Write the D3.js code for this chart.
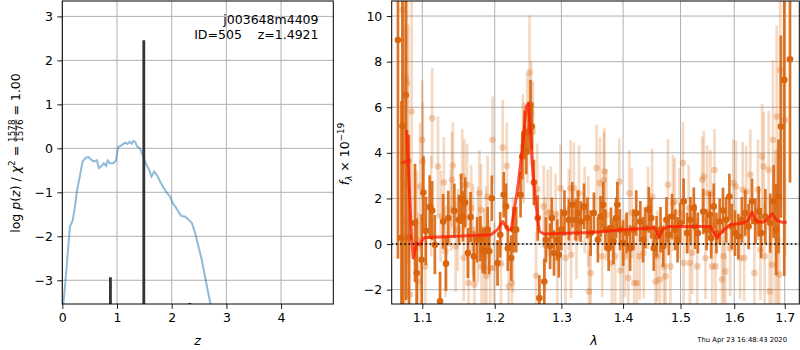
<!DOCTYPE html>
<html lang="en">
<head>
    <meta charset="UTF-8">
    <script src="https://cdnjs.cloudflare.com/ajax/libs/d3/7.8.5/d3.min.js"></script>
    <title>redshift fit</title>
    <style>
        body { margin: 0; background: #fff; }
        svg text { font-family: "DejaVu Sans", sans-serif; fill: #000; }
    </style>
</head>
<body>
<div id="plot"></div>
<script>
    // p(z) curve
    var pzZ = [0.02,0.06,0.11,0.14,0.19,0.23,0.27,0.32,0.37,0.43,0.48,0.54,0.58,0.63,0.67,0.72,0.76,0.80,0.83,0.87,
        0.93,0.98,1.02,1.09,1.15,1.19,1.23,1.27,1.30,1.33,1.37,1.42,1.48,1.54,1.59,1.63,1.68,1.73,1.79,1.85,
        1.91,1.97,2.00,2.03,2.06,2.10,2.14,2.18,2.24,2.30,2.37,2.43,2.49,2.55,2.61,2.67,2.71];
    var pzLog = [-3.54,-2.99,-2.23,-1.78,-1.64,-1.33,-0.95,-0.64,-0.30,-0.21,-0.20,-0.27,-0.30,-0.27,-0.45,-0.40,-0.34,-0.40,-0.28,-0.34,
        -0.34,-0.28,0.02,0.08,0.13,0.10,0.15,0.10,0.17,0.15,0.04,0.0,-0.19,-0.38,-0.49,-0.64,-0.53,-0.61,-0.76,-0.89,
        -1.01,-1.10,-1.19,-1.27,-1.31,-1.39,-1.48,-1.54,-1.55,-1.61,-1.70,-1.93,-2.23,-2.54,-2.92,-3.30,-3.54];
    // vertical bars
    var barZ = [0.88, 1.49, 2.33];
    var barLog = [-2.93, 2.46, -3.52];

    // spectrum, first set (solid)
    var darkWave = [1.0683,1.0728,1.0741,1.0785,1.0824,1.0904,1.0926,1.0992,1.1014,1.1047,
        1.1098,1.1131,1.1167,1.1237,1.1279,1.1317,1.1349,1.1432,1.1494,1.1526,
        1.1550,1.1582,1.1619,1.1656,1.1703,1.1749,1.1795,1.1828,1.1861,1.1898,
        1.1921,1.1958,1.2040,1.2079,1.2130,1.2164,1.2190,1.2239,1.2273,1.2313,
        1.2378,1.2403,1.2437,1.2463,1.2497,1.2527,1.2548,1.2578,1.2637,1.2661,
        1.2736,1.2761,1.2825,1.2851,1.2885,1.2936,1.2960,1.3000,1.3048,1.3117,
        1.3172,1.3225,1.3262,1.3305,1.3358,1.3413,1.3465,1.3518,1.3583,1.3626,
        1.3669,1.3706,1.3759,1.3798,1.3839,1.3883,1.3904,1.3947,1.4000,1.4060,
        1.4118,1.4175,1.4223,1.4293,1.4340,1.4381,1.4439,1.4481,1.4526,1.4574,
        1.4644,1.4691,1.4749,1.4789,1.4849,1.4907,1.4947,1.4995,1.5056,1.5119,
        1.5180,1.5241,1.5263,1.5315,1.5415,1.5476,1.5537,1.5563,1.5611,1.5661,
        1.5722,1.5785,1.5846,1.5907,1.5952,1.6014,1.6079,1.6147,1.6212,1.6278,
        1.6345,1.6411,1.6476,1.6524,1.6609,1.6708,1.6774,1.6827,1.6873,1.6921,
        1.6990,1.7108];
    var darkFlux = [8.95,0.27,5.18,6.54,0.29,0.92,-1.27,-0.69,2.26,0.58,
        1.62,1.47,-0.03,-2.51,0.99,-0.86,1.14,1.46,1.06,1.98,
        1.21,1.82,-0.39,1.18,-0.54,0.19,0.23,-0.28,-0.32,0.63,
        -0.32,2.01,-0.83,0.41,2.16,1.65,-0.18,-0.61,0.63,0.63,
        2.16,3.84,4.86,4.06,4.93,6.10,5.15,2.70,1.14,-2.37,
        -1.64,0.19,-0.10,1.14,-0.39,0.19,-0.47,0.63,1.36,1.06,
        1.72,1.06,1.36,0.99,1.65,1.14,0.48,1.36,0.19,1.21,
        1.72,0.63,-0.18,0.70,0.12,1.14,1.72,0.63,0.04,0.48,
        -0.18,0.63,1.36,0.99,0.19,0.70,1.50,1.14,-0.18,0.33,
        0.63,-0.10,1.06,0.41,1.21,0.63,0.19,0.92,1.87,0.48,
        1.06,1.58,0.77,0.48,1.43,0.63,1.28,0.26,1.65,0.48,
        0.99,1.47,1.06,2.08,0.77,0.48,0.33,1.06,1.36,0.77,
        1.87,0.99,1.43,0.48,1.21,0.92,1.87,0.63,2.08,5.15,
        7.20,8.10];
    var darkErr = [9.6,6.0,8.0,9.0,4.5,2.6,2.4,2.0,1.6,1.5,
        1.4,1.3,1.3,1.3,1.2,1.2,1.2,1.2,1.1,1.1,
        1.1,1.1,1.1,1.1,1.1,1.0,1.0,1.0,1.0,1.0,
        1.0,1.0,1.0,1.0,1.0,1.0,1.0,1.0,1.0,1.0,
        1.0,1.0,1.0,1.0,1.0,1.1,1.0,1.0,1.0,1.0,
        1.0,1.0,1.0,0.9,1.0,0.9,1.0,0.9,1.0,0.9,
        1.0,0.9,1.0,0.9,1.0,0.9,1.0,0.9,1.0,0.9,
        1.0,0.9,1.0,0.9,1.0,0.9,1.0,0.9,1.0,0.9,
        1.0,0.9,1.0,0.9,1.0,0.9,1.0,0.9,1.0,0.9,
        1.0,0.9,1.0,0.9,1.0,0.9,1.0,0.9,1.0,0.9,
        1.0,0.9,1.0,0.9,1.0,0.9,1.0,0.9,1.0,0.9,
        1.0,1.0,1.0,1.0,1.0,1.0,1.0,1.0,1.0,1.0,
        1.0,1.0,1.1,1.1,1.2,1.3,1.6,2.0,2.5,4.0,
        8.6,5.4];

    // spectrum, second set (faint)
    var lightWave = [1.0741,1.0749,1.0765,1.0772,1.0785,1.0802,1.0815,1.0838,1.0860,1.0926,
        1.0947,1.0970,1.1000,1.1007,1.1038,1.1117,1.1131,1.1209,1.1247,1.1289,
        1.1310,1.1386,1.1400,1.1410,1.1449,1.1480,1.1540,1.1561,1.1570,1.1607,
        1.1628,1.1665,1.1689,1.1711,1.1759,1.1781,1.1805,1.1812,1.1851,1.1874,
        1.1881,1.1898,1.1934,1.1968,1.1990,1.2090,1.2115,1.2175,1.2202,1.2249,
        1.2264,1.2413,1.2425,1.2478,1.2512,1.2537,1.2563,1.2612,1.2627,1.2727,
        1.2746,1.2787,1.2836,1.2910,1.2936,1.2985,1.3064,1.3117,1.3144,1.3152,
        1.3197,1.3238,1.3278,1.3369,1.3426,1.3438,1.3465,1.3562,1.3615,1.3653,
        1.3679,1.3690,1.3722,1.3814,1.3867,1.3936,1.3958,1.4030,1.4088,1.4105,
        1.4147,1.4188,1.4235,1.4281,1.4351,1.4425,1.4498,1.4556,1.4586,1.4632,
        1.4702,1.4732,1.4775,1.4819,1.4863,1.4895,1.4982,1.5044,1.5056,1.5148,
        1.5170,1.5211,1.5304,1.5396,1.5426,1.5457,1.5489,1.5550,1.5581,1.5624,
        1.5643,1.5767,1.5796,1.5828,1.5920,1.5981,1.6034,1.6113,1.6163,1.6192,
        1.6232,1.6312,1.6391,1.6461,1.6510,1.6544,1.6575,1.6595,1.6675,1.6694,
        1.6742,1.6762,1.6808,1.6837,1.6853,1.6887,1.6907,1.7006];
    var lightFlux = [10.26,3.55,0.99,2.60,7.27,7.05,3.62,-2.22,5.81,0.19,
        -1.64,2.52,4.57,3.62,-0.98,1.65,5.52,3.40,1.21,2.70,
        -0.32,1.50,2.82,3.44,-0.10,0.63,2.96,-0.61,2.60,2.60,
        -1.71,1.58,0.63,-1.78,0.41,2.23,1.50,-0.98,-0.54,0.63,
        -1.39,2.08,-1.05,4.57,-1.05,-0.86,4.23,3.43,-1.86,-1.71,
        -0.03,4.28,3.99,5.08,7.52,5.74,4.93,-1.39,2.41,1.65,
        -0.03,1.36,1.40,1.28,-0.61,2.45,-0.61,1.50,2.45,-0.47,
        2.45,0.26,2.23,1.50,0.99,-2.08,-1.27,3.33,2.67,-0.54,
        2.82,3.18,1.28,-0.83,-0.54,2.74,-1.16,-0.54,-1.49,2.23,
        1.36,-1.71,-1.71,-0.54,-0.39,1.58,2.08,-1.64,-0.54,-1.56,
        -0.98,-1.42,2.60,-0.98,1.80,1.87,1.36,3.55,-0.83,1.58,
        -0.83,-0.39,-0.98,2.82,2.96,-0.61,2.23,2.23,-0.98,3.25,
        -0.98,-1.56,-0.54,-1.20,-0.18,2.67,2.52,-0.61,2.38,-0.61,
        2.30,3.04,-1.27,2.38,-0.25,3.84,3.40,-0.54,3.25,-2.08,
        -0.91,4.57,0.63,5.59,0.19,-1.34,7.63,5.44];
    var lightErr = [8.0,7.0,6.0,7.0,8.0,8.0,6.0,6.0,5.0,3.0,
        3.0,2.8,2.6,2.6,2.4,2.2,2.2,2.2,2.0,2.0,
        2.0,1.8,2.1,1.9,2.0,1.8,2.1,1.9,2.0,1.8,
        2.1,1.9,2.0,1.8,2.1,1.9,2.0,1.8,2.1,1.9,
        2.0,1.8,2.1,1.9,2.0,1.8,2.1,1.9,2.0,1.8,
        2.1,2.3,2.2,2.4,2.5,2.3,2.2,1.9,2.0,1.8,
        2.1,1.9,2.0,1.8,2.1,1.9,2.0,1.8,2.1,1.9,
        2.0,1.8,2.1,1.9,2.0,1.8,2.1,1.9,2.0,1.8,
        2.1,1.9,2.0,1.8,2.1,1.9,2.0,1.8,2.1,1.9,
        2.0,1.8,2.1,1.9,2.0,1.8,2.1,1.9,2.0,1.8,
        2.1,1.9,2.0,1.8,2.1,1.9,2.0,1.8,2.1,1.9,
        2.0,1.8,2.1,1.9,2.0,1.8,2.1,1.9,2.0,1.8,
        2.1,1.9,2.0,1.8,2.1,1.9,2.0,1.8,2.1,1.9,
        2.0,2.0,2.1,2.2,2.2,2.3,2.4,2.4,2.6,2.8,
        3.0,3.5,3.5,4.0,4.0,4.5,5.0,6.0];

    // best-fit model
    var modelWave = [1.0796,1.0828,1.0860,1.0881,1.0926,1.0970,1.1014,1.1061,1.1944,1.2040,
        1.2115,1.2190,1.2239,1.2339,1.2413,1.2463,1.2497,1.2527,1.2563,1.2612,
        1.2661,1.2736,1.3197,1.3465,1.4000,1.4498,1.4547,1.4625,1.4673,1.4789,
        1.5180,1.5550,1.5673,1.5767,1.5920,1.6179,1.6258,1.6345,1.6431,1.6544,
        1.6643,1.6742,1.6843,1.6941,1.7041];
    var modelFlux = [5.0,2.52,0.27,-0.61,0.04,-0.03,0.26,0.29,0.41,0.63,
        0.99,0.63,0.63,2.52,4.42,6.03,6.18,4.86,3.11,1.65,
        0.55,0.44,0.48,0.51,0.63,0.70,0.70,0.31,0.63,0.77,
        0.77,0.77,0.26,0.55,0.85,0.92,1.0,1.40,0.99,0.95,
        1.05,1.33,1.03,0.96,0.96];
    var model2Wave = [1.0728, 1.0838];
    var model2Flux = [3.55, 3.69];

    var zTicks = [0, 1, 2, 3, 4];
    var pTicks = [-3, -2, -1, 0, 1, 2, 3];
    var lamTicks = [1.1, 1.2, 1.3, 1.4, 1.5, 1.6, 1.7];
    var fTicks = [-2, 0, 2, 4, 6, 8, 10];

    var W = 800, H = 350;
    var orange = "#d9660f";
    var gridColor = "#b0b0b0";
    var fs = 12.5;

    var svg = d3.select("#plot").append("svg")
        .attr("width", W).attr("height", H);

    // panels ______________________________________
    var L = { x0: 62.3, x1: 333.3, y0: 1, y1: 304 };
    var R = { x0: 391.7, x1: 799.3, y0: 1, y1: 304 };

    var xz = d3.scaleLinear().domain([0, 4.955]).range([L.x0, L.x1]);
    var yp = d3.scaleLinear().domain([-3.54, 3.35]).range([L.y1, L.y0]);
    var xl = d3.scaleLog().domain([1.0603, 1.730]).range([R.x0, R.x1]);
    var yf = d3.scaleLinear().domain([-2.63, 10.66]).range([R.y1, R.y0]);

    var defs = svg.append("defs");
    [["clipL", L], ["clipR", R]].forEach(function (c) {
        defs.append("clipPath").attr("id", c[0]).append("rect")
            .attr("x", c[1].x0).attr("y", c[1].y0)
            .attr("width", c[1].x1 - c[1].x0).attr("height", c[1].y1 - c[1].y0);
    });

    function grid(P, xs, ys, xt, yt) {
        var g = svg.append("g");
        g.selectAll(".gx").data(xt).enter().append("line")
            .attr("x1", d => xs(d)).attr("x2", d => xs(d))
            .attr("y1", P.y0).attr("y2", P.y1)
            .attr("stroke", gridColor).attr("stroke-width", 1);
        g.selectAll(".gy").data(yt).enter().append("line")
            .attr("x1", P.x0).attr("x2", P.x1)
            .attr("y1", d => ys(d)).attr("y2", d => ys(d))
            .attr("stroke", gridColor).attr("stroke-width", 1);
    }

    function axes(P, xs, ys, xt, yt, xfmt, yfmt) {
        var ax = svg.append("g").attr("transform", "translate(0," + P.y1 + ")")
            .call(d3.axisBottom(xs).tickValues(xt).tickFormat(xfmt).tickSize(4.9).tickPadding(4.5));
        var ay = svg.append("g").attr("transform", "translate(" + P.x0 + ",0)")
            .call(d3.axisLeft(ys).tickValues(yt).tickFormat(yfmt).tickSize(4.9).tickPadding(4.5));
        [ax, ay].forEach(function (a) {
            a.select(".domain").remove();
            a.selectAll("text").attr("font-size", fs).attr("font-family", "DejaVu Sans");
            a.selectAll("line").attr("stroke", "#000").attr("stroke-width", 0.9);
        });
        svg.append("rect").attr("x", P.x0).attr("y", P.y0)
            .attr("width", P.x1 - P.x0).attr("height", P.y1 - P.y0)
            .attr("fill", "none").attr("stroke", "#000").attr("stroke-width", 1);
    }

    // (1) left: p(z) ______________________________
    grid(L, xz, yp, zTicks, pTicks);
    var gl = svg.append("g").attr("clip-path", "url(#clipL)");
    gl.append("path")
        .datum(pzZ.map((z, i) => [z, pzLog[i]]))
        .attr("d", d3.line().x(d => xz(d[0])).y(d => yp(d[1])))
        .attr("fill", "none").attr("stroke", "#1f77b4")
        .attr("stroke-opacity", 0.5).attr("stroke-width", 2);
    gl.selectAll(".bar").data(barZ).enter().append("line")
        .attr("x1", d => xz(d)).attr("x2", d => xz(d))
        .attr("y1", L.y1).attr("y2", (d, i) => yp(barLog[i]))
        .attr("stroke", "#333").attr("stroke-width", 2.8);
    axes(L, xz, yp, zTicks, pTicks, d3.format("d"), d3.format("d"));

    svg.append("text").attr("x", 318.5).attr("y", 24).attr("text-anchor", "end")
        .attr("font-size", fs).text("j003648m4409");
    svg.append("text").attr("x", 318.5).attr("y", 39).attr("text-anchor", "end")
        .attr("font-size", fs).text("ID=505\u00a0\u00a0\u00a0\u00a0z=1.4921");

    // (2) right: spectrum _________________________
    grid(R, xl, yf, lamTicks, fTicks);
    var gr = svg.append("g").attr("clip-path", "url(#clipR)");

    function errSet(wave, flux, err, barOp, dotOp) {
        var g = gr.append("g");
        g.selectAll("line").data(wave).enter().append("line")
            .attr("x1", d => xl(d)).attr("x2", d => xl(d))
            .attr("y1", (d, i) => yf(flux[i] - err[i]))
            .attr("y2", (d, i) => yf(flux[i] + err[i]))
            .attr("stroke", orange).attr("stroke-opacity", barOp).attr("stroke-width", 2.7);
        g.selectAll("circle").data(wave).enter().append("circle")
            .attr("cx", d => xl(d)).attr("cy", (d, i) => yf(flux[i]))
            .attr("r", 3.3).attr("fill", orange).attr("fill-opacity", dotOp);
    }
    errSet(lightWave, lightFlux, lightErr, 0.25, 0.3);
    errSet(darkWave, darkFlux, darkErr, 0.9, 1);

    var mline = d3.line().x(d => xl(d[0])).y(d => yf(d[1]));
    gr.append("path").datum(modelWave.map((w, i) => [w, modelFlux[i]]))
        .attr("d", mline).attr("fill", "none").attr("stroke", "#ff1a00")
        .attr("stroke-opacity", 0.75).attr("stroke-width", 3).attr("stroke-linejoin", "round");
    gr.append("path").datum(model2Wave.map((w, i) => [w, model2Flux[i]]))
        .attr("d", mline).attr("fill", "none").attr("stroke", "#ff1a00")
        .attr("stroke-opacity", 0.6).attr("stroke-width", 3);

    gr.append("line").attr("x1", R.x0).attr("x2", R.x1)
        .attr("y1", yf(0)).attr("y2", yf(0))
        .attr("stroke", "#000").attr("stroke-width", 1.6).attr("stroke-dasharray", "1.6,2.6");

    axes(R, xl, yf, lamTicks, fTicks, d3.format(".1f"), d3.format("d"));

    // axis labels ________________________________
    svg.append("text").attr("x", 197.5).attr("y", 345).attr("text-anchor", "middle")
        .attr("font-size", fs).attr("font-style", "italic").text("z");
    svg.append("text").attr("x", 594).attr("y", 345).attr("text-anchor", "middle")
        .attr("font-size", fs).attr("font-style", "italic").text("λ");

    // left y label with fraction
    var yl = svg.append("g");
    var t1 = yl.append("text").attr("font-size", fs);
    t1.append("tspan").text("log\u00a0");
    t1.append("tspan").attr("font-style", "italic").text("p");
    t1.append("tspan").text("(");
    t1.append("tspan").attr("font-style", "italic").text("z");
    t1.append("tspan").text(")\u00a0/\u00a0");
    t1.append("tspan").attr("font-style", "italic").text("χ");
    t1.append("tspan").attr("dy", -5).attr("font-size", 8.8).text("2");
    t1.append("tspan").attr("dy", 5).text("\u00a0=\u00a0");
    var w1 = t1.node().getComputedTextLength();
    var num = yl.append("text").attr("x", w1).attr("y", -4.6).attr("font-size", 8.8).text("1578");
    var den = yl.append("text").attr("x", w1).attr("y", 3.6).attr("font-size", 8.8).text("1576");
    var wf = Math.max(num.node().getComputedTextLength(), den.node().getComputedTextLength());
    yl.append("line").attr("x1", w1).attr("x2", w1 + wf).attr("y1", -3.6).attr("y2", -3.6)
        .attr("stroke", "#000").attr("stroke-width", 0.7);
    var t3 = yl.append("text").attr("x", w1 + wf).attr("font-size", fs).text("\u00a0=\u00a01.00");
    var wt = w1 + wf + t3.node().getComputedTextLength();
    yl.attr("transform", "translate(19.5," + (153 + wt / 2) + ") rotate(-90)");

    // right y label
    var yr = svg.append("text").attr("font-size", fs).attr("text-anchor", "middle")
        .attr("transform", "translate(349,154) rotate(-90)");
    yr.append("tspan").attr("font-style", "italic").text("f");
    yr.append("tspan").attr("font-style", "italic").attr("font-size", 8.8).attr("dy", 2.5).text("λ");
    yr.append("tspan").attr("dy", -2.5).text("\u00a0×\u00a010");
    yr.append("tspan").attr("font-size", 8.8).attr("dy", -5).text("−19");

    // timestamp
    svg.append("text").attr("x", 787).attr("y", 342).attr("text-anchor", "end")
        .attr("font-size", 6.8).text("Thu Apr 23 16:48:43 2020");
</script>
</body>
</html>
